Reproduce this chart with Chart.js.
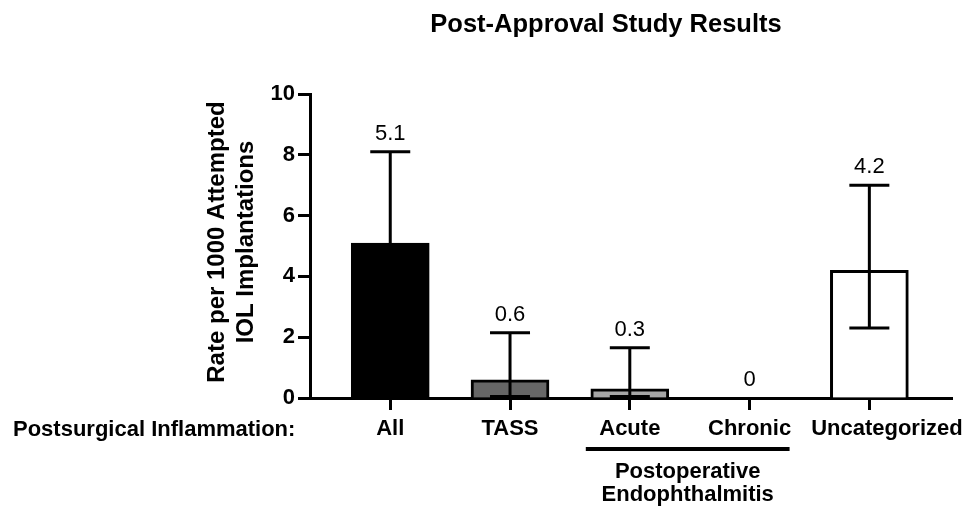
<!DOCTYPE html>
<html>
<head>
<meta charset="utf-8">
<script src="https://cdn.jsdelivr.net/npm/chart.js@4.4.1/dist/chart.umd.min.js"></script>
<style>
  html, body { margin: 0; background: #fff; }
  #wrap { width: 972px; height: 510px; }
</style>
</head>
<body>
<div id="wrap"><canvas id="chart"></canvas></div>
<script>
// data
const categories = ['All', 'TASS', 'Acute', 'Chronic', 'Uncategorized']
const rates = [5.1, 0.6, 0.3, 0, 4.2]
const errLow = [2.1, 0.05, 0.05, null, 2.3]
const errHigh = [8.1, 2.15, 1.65, null, 7.0]
const yTicks = [0, 2, 4, 6, 8, 10]
const barColors = ['#000000', '#666666', '#a6a6a6', '#ffffff', '#ffffff']

const chartTitle = 'Post-Approval Study Results'
const yTitle = ['Rate per 1000 Attempted', 'IOL Implantations']
const rowLabel = 'Postsurgical Inflammation:'
const groupLabel = ['Postoperative', 'Endophthalmitis']
const groupMembers = ['Acute', 'Chronic']

const FONT = '"Liberation Sans", Arial, sans-serif'

const extras = {
  id: 'extras',
  afterDatasetsDraw(chart) {
    const { ctx } = chart
    const x = chart.scales.x
    const y = chart.scales.y
    ctx.save()
    ctx.strokeStyle = '#000'
    ctx.fillStyle = '#000'
    ctx.lineWidth = 3
    categories.forEach((c, i) => {
      const px = x.getPixelForValue(i + 1)
      let top = y.getPixelForValue(rates[i])
      if (errHigh[i] != null) {
        const hi = y.getPixelForValue(errHigh[i])
        const lo = y.getPixelForValue(errLow[i])
        ctx.beginPath()
        ctx.moveTo(px, lo)
        ctx.lineTo(px, hi)
        ctx.moveTo(px - 20, hi)
        ctx.lineTo(px + 20, hi)
        ctx.moveTo(px - 20, lo)
        ctx.lineTo(px + 20, lo)
        ctx.stroke()
        top = hi
      }
      ctx.font = '22px ' + FONT
      ctx.textAlign = 'center'
      ctx.textBaseline = 'bottom'
      ctx.fillText(String(rates[i]), px, top - 7)
    })
    ctx.restore()
  },
  afterDraw(chart) {
    const { ctx } = chart
    const x = chart.scales.x
    ctx.save()
    ctx.fillStyle = '#000'
    ctx.strokeStyle = '#000'

    // title
    ctx.font = 'bold 25.5px ' + FONT
    ctx.textAlign = 'center'
    ctx.textBaseline = 'middle'
    ctx.fillText(chartTitle, 606, 25)

    // category labels: keep a gap between neighbours and stay inside the canvas
    ctx.font = 'bold 22px ' + FONT
    let prevRight = -Infinity
    categories.forEach((c, i) => {
      const w = ctx.measureText(c).width
      let px = x.getPixelForValue(i + 1)
      px = Math.max(px, prevRight + 20 + w / 2)
      px = Math.min(px, chart.width - 4 - w / 2)
      ctx.fillText(c, px, 429)
      prevRight = px + w / 2
    })

    ctx.textAlign = 'left'
    ctx.fillText(rowLabel, 13, 430)

    // group bracket
    const g0 = x.getPixelForValue(categories.indexOf(groupMembers[0]) + 1)
    const g1 = x.getPixelForValue(categories.indexOf(groupMembers[1]) + 1)
    ctx.lineWidth = 4
    ctx.beginPath()
    ctx.moveTo(g0 - 44, 449)
    ctx.lineTo(g1 + 40, 449)
    ctx.stroke()
    ctx.textAlign = 'center'
    const gc = (g0 - 44 + g1 + 40) / 2
    groupLabel.forEach((t, k) => ctx.fillText(t, gc, 472 + k * 23))

    // y title
    ctx.font = 'bold 24px ' + FONT
    ctx.translate(0, 242)
    ctx.rotate(-Math.PI / 2)
    yTitle.forEach((t, k) => ctx.fillText(t, 0, 217 + k * 29))
    ctx.restore()
  }
}

new Chart(document.getElementById('chart'), {
  type: 'bar',
  data: {
    datasets: [{
      data: rates.map((v, i) => ({ x: i + 1, y: v })),
      backgroundColor: barColors,
      borderColor: '#000',
      borderWidth: 3,
      barThickness: 78
    }]
  },
  options: {
    responsive: true,
    maintainAspectRatio: false,
    animation: false,
    layout: { padding: { top: 94, right: 20, left: 0, bottom: 0 } },
    plugins: {
      legend: { display: false },
      tooltip: { enabled: false }
    },
    scales: {
      x: {
        type: 'linear',
        bounds: 'data',
        offset: false,
        min: 0.33,
        max: 5.69,
        afterBuildTicks: s => { s.ticks = categories.map((c, i) => ({ value: i + 1 })) },
        afterFit: s => { s.height = 112 },
        ticks: { display: false },
        grid: { offset: false, drawOnChartArea: false, tickLength: 12, tickWidth: 3, tickColor: '#000' },
        border: { color: '#000', width: 3 }
      },
      y: {
        min: 0,
        max: 10,
        afterBuildTicks: s => { s.ticks = yTicks.map(v => ({ value: v })) },
        afterFit: s => { s.width = 310 },
        ticks: { color: '#000', padding: 3, font: { family: FONT, size: 22, weight: 'bold' } },
        grid: { drawOnChartArea: false, tickLength: 12, tickWidth: 3, tickColor: '#000' },
        border: { color: '#000', width: 3 }
      }
    }
  },
  plugins: [extras]
})
</script>
</body>
</html>
